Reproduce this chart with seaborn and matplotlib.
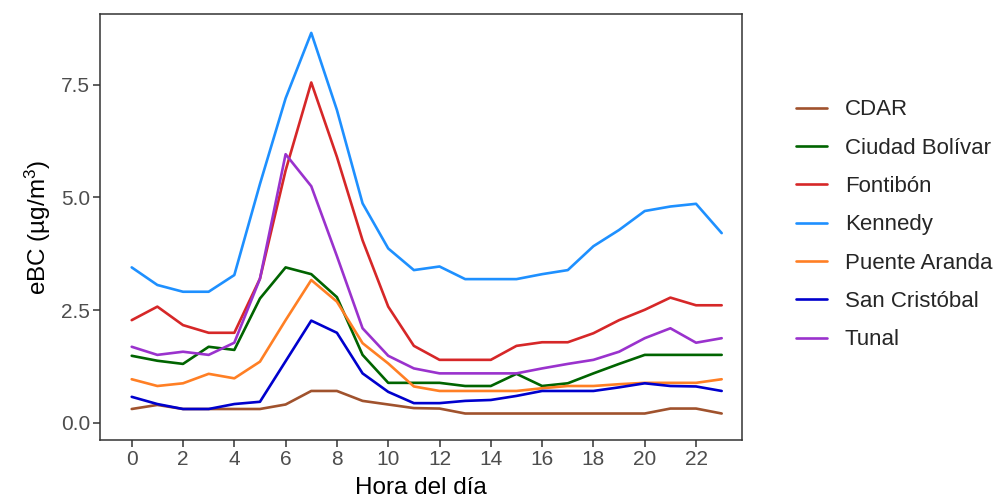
import numpy as np
import pandas as pd
import matplotlib
matplotlib.use("Agg")
import matplotlib.pyplot as plt
import seaborn as sns

# Hours of the day
hours = list(range(24))

# Mean eBC per station (ug/m3)
cdar = [0.31, 0.40, 0.31, 0.31, 0.31, 0.31, 0.41, 0.71, 0.71, 0.49, 0.41, 0.33,
        0.32, 0.21, 0.21, 0.21, 0.21, 0.21, 0.21, 0.21, 0.21, 0.32, 0.32, 0.21]
ciudad_bolivar = [1.49, 1.38, 1.31, 1.69, 1.62, 2.76, 3.45, 3.30, 2.79, 1.51, 0.89, 0.89,
                  0.89, 0.82, 0.82, 1.09, 0.82, 0.88, 1.10, 1.31, 1.51, 1.51, 1.51, 1.51]
fontibon = [2.28, 2.58, 2.17, 2.00, 2.00, 3.20, 5.60, 7.55, 5.90, 4.05, 2.58, 1.71,
            1.40, 1.40, 1.40, 1.71, 1.79, 1.79, 1.99, 2.28, 2.51, 2.78, 2.61, 2.61]
kennedy = [3.45, 3.06, 2.91, 2.91, 3.28, 5.30, 7.20, 8.65, 6.94, 4.87, 3.87, 3.39,
           3.47, 3.19, 3.19, 3.19, 3.30, 3.39, 3.92, 4.28, 4.70, 4.80, 4.86, 4.21]
puente_aranda = [0.97, 0.82, 0.88, 1.09, 0.99, 1.36, 2.28, 3.17, 2.69, 1.77, 1.32, 0.81,
                 0.71, 0.71, 0.71, 0.71, 0.77, 0.82, 0.82, 0.86, 0.89, 0.89, 0.89, 0.97]
san_cristobal = [0.58, 0.42, 0.31, 0.31, 0.42, 0.47, 1.37, 2.27, 2.00, 1.10, 0.69, 0.44,
                 0.44, 0.49, 0.51, 0.60, 0.71, 0.71, 0.71, 0.79, 0.88, 0.82, 0.81, 0.71]
tunal = [1.69, 1.51, 1.58, 1.51, 1.78, 3.20, 5.96, 5.25, 3.70, 2.10, 1.49, 1.21,
         1.10, 1.10, 1.10, 1.10, 1.21, 1.31, 1.40, 1.58, 1.88, 2.10, 1.78, 1.88]

stations = ["CDAR", "Ciudad Bolívar", "Fontibón", "Kennedy",
            "Puente Aranda", "San Cristóbal", "Tunal"]
series = [cdar, ciudad_bolivar, fontibon, kennedy, puente_aranda, san_cristobal, tunal]
colors = ["#A0522D", "#006400", "#D62728", "#1E90FF", "#FF7F24", "#0000CD", "#9A32CD"]

# Build a long table for seaborn
df = pd.concat(
    [pd.DataFrame({"hora": hours, "ebc": vals, "estacion": name})
     for name, vals in zip(stations, series)],
    ignore_index=True,
)

sns.set_theme(style="white")
plt.rcParams["font.family"] = ["Liberation Sans", "DejaVu Sans"]
plt.rcParams["mathtext.fontset"] = "custom"
plt.rcParams["mathtext.rm"] = "Liberation Sans"
plt.rcParams["mathtext.it"] = "Liberation Sans:italic"

fig = plt.figure(figsize=(10.04, 4.98), dpi=100)
ax = fig.add_axes([0.0996, 0.1165, 0.6394, 0.8555])

sns.lineplot(data=df, x="hora", y="ebc", hue="estacion", hue_order=stations,
             palette=dict(zip(stations, colors)), linewidth=1.9, ax=ax)

ax.set_xlim(-1.236, 23.79)
ax.set_ylim(-0.377, 9.07)
ax.set_xticks(range(0, 24, 2))
ax.set_yticks([0, 2.5, 5.0, 7.5])
ax.set_yticklabels(["0.0", "2.5", "5.0", "7.5"])
ax.tick_params(axis="both", which="both", length=5, width=1.1, color="#333333",
               labelsize=15, labelcolor="#4D4D4D", bottom=True, left=True, pad=2)
for sp in ax.spines.values():
    sp.set_color("#333333")
    sp.set_linewidth(1.1)

ax.set_xlabel("Hora del día", fontsize=17.5, color="black", labelpad=6)
ax.set_ylabel(r"eBC (µg/m$^3$)", fontsize=17.5, color="black", labelpad=6)

leg = ax.legend(loc="center left", bbox_to_anchor=(1.084, 0.505), frameon=False,
                fontsize=16, handlelength=1.4, handletextpad=0.8, labelspacing=0.78,
                borderaxespad=0, borderpad=0, title=None)
for line in leg.get_lines():
    line.set_linewidth(1.9)

fig.savefig("out.png", dpi=100)
